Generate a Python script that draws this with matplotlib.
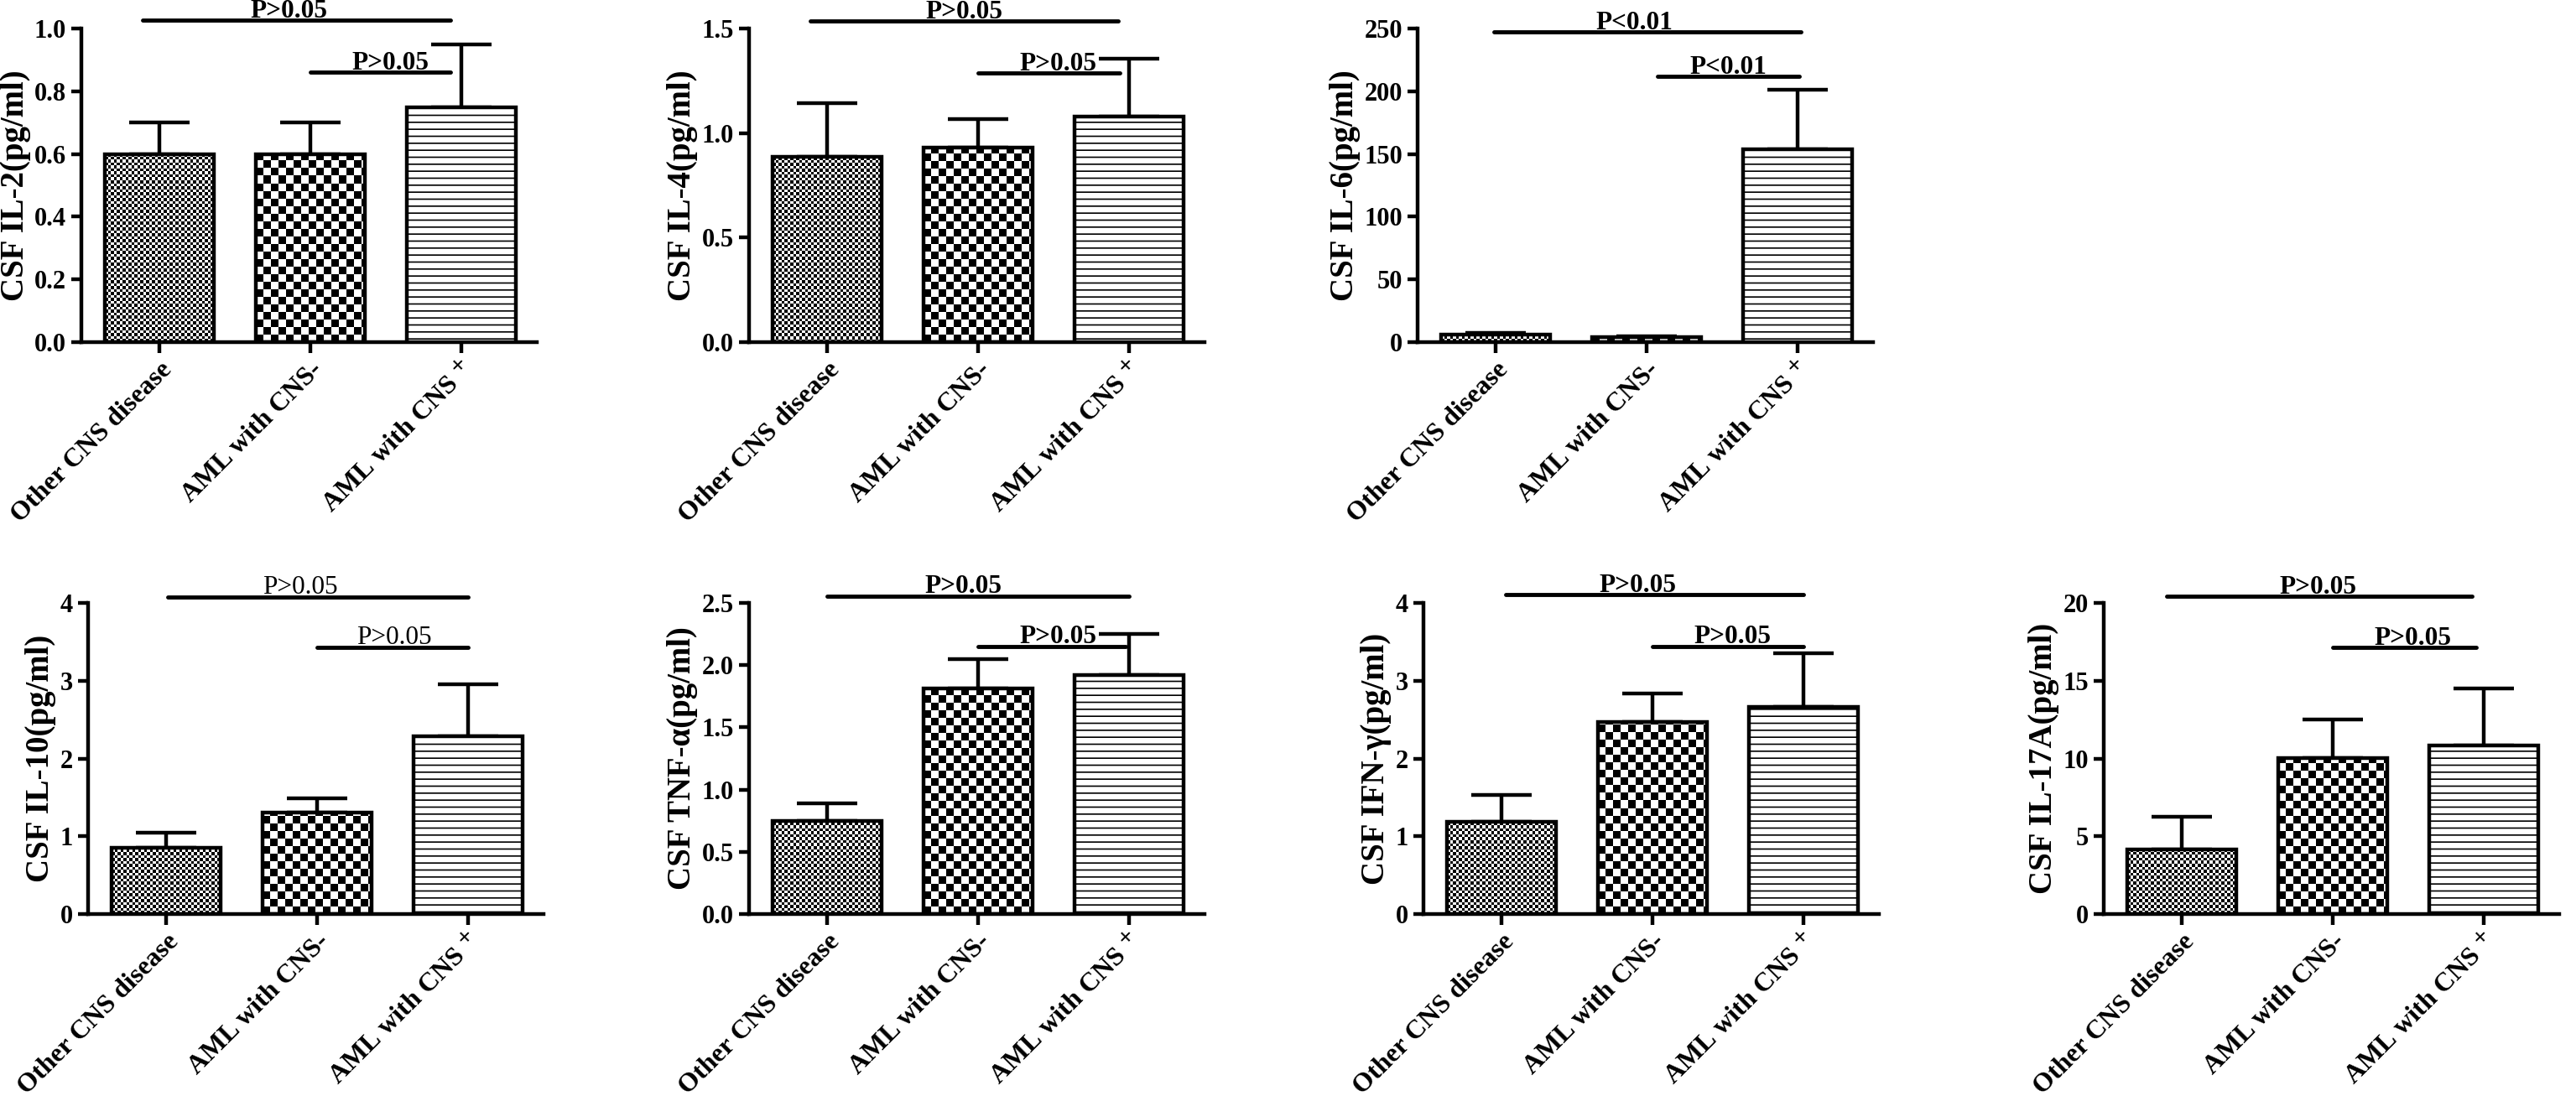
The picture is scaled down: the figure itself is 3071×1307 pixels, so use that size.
import matplotlib
matplotlib.use('Agg')
import matplotlib.pyplot as plt
import numpy as np

plt.rcParams['font.family'] = ['Liberation Serif', 'DejaVu Serif']
plt.rcParams['font.weight'] = 'bold'
plt.rcParams['mathtext.fontset'] = 'stix'
plt.rcParams['hatch.linewidth'] = 1.2

groups = ['Other CNS disease', 'AML with CNS-', 'AML with CNS $^{+}$']

# mean and upper error (pg/ml)
il2_mean = [0.60, 0.60, 0.75]
il2_err = [0.10, 0.10, 0.20]
il4_mean = [0.885, 0.93, 1.08]
il4_err = [0.26, 0.135, 0.275]
il6_mean = [6.0, 4.0, 154.0]
il6_err = [1.5, 0.8, 47.0]
il10_mean = [0.85, 1.30, 2.29]
il10_err = [0.20, 0.19, 0.66]
tnf_mean = [0.75, 1.81, 1.92]
tnf_err = [0.14, 0.24, 0.33]
ifn_mean = [1.19, 2.47, 2.66]
ifn_err = [0.34, 0.37, 0.69]
il17_mean = [4.17, 10.02, 10.82]
il17_err = [2.06, 2.47, 3.68]

il2_ticks = [0.0, 0.2, 0.4, 0.6, 0.8, 1.0]
il4_ticks = [0.0, 0.5, 1.0, 1.5]
il6_ticks = [0, 50, 100, 150, 200, 250]
il10_ticks = [0, 1, 2, 3, 4]
tnf_ticks = [0.0, 0.5, 1.0, 1.5, 2.0, 2.5]
ifn_ticks = [0, 1, 2, 3, 4]
il17_ticks = [0, 5, 10, 15, 20]

il2_p = ['P>0.05', 'P>0.05']
il4_p = ['P>0.05', 'P>0.05']
il6_p = ['P<0.01', 'P<0.01']
il10_p = ['P>0.05', 'P>0.05']
tnf_p = ['P>0.05', 'P>0.05']
ifn_p = ['P>0.05', 'P>0.05']
il17_p = ['P>0.05', 'P>0.05']

W, H = 3071, 1307
fig = plt.figure(figsize=(W / 100, H / 100), dpi=100)

# left px, top px, bottom px, ylabel, data, ticks, decimals, p labels,
# bracket lines (x0, x1, y), text x, p text weight
panels = [
    (97, 34, 408, 'CSF IL-2(pg/ml)', il2_mean, il2_err, il2_ticks, 1, il2_p,
     [(-0.11, 1.93, 1.026), (1.0, 1.93, 0.861)], [0.86, 1.53], 'bold'),
    (893, 34, 408, 'CSF IL-4(pg/ml)', il4_mean, il4_err, il4_ticks, 1, il4_p,
     [(-0.11, 1.93, 1.535), (1.0, 1.94, 1.286)], [0.91, 1.53], 'bold'),
    (1690, 34, 408, 'CSF IL-6(pg/ml)', il6_mean, il6_err, il6_ticks, 0, il6_p,
     [(-0.01, 2.02, 247), (1.07, 2.01, 211.7)], [0.92, 1.54], 'bold'),
    (105, 719, 1090, 'CSF IL-10(pg/ml)', il10_mean, il10_err, il10_ticks, 0, il10_p,
     [(0.01, 2.0, 4.077), (1.0, 2.0, 3.43)], [0.89, 1.51], 'normal'),
    (893, 719, 1090, 'CSF TNF-α(pg/ml)', tnf_mean, tnf_err, tnf_ticks, 1, tnf_p,
     [(0.0, 2.0, 2.556), (1.0, 1.98, 2.152)], [0.90, 1.53], 'bold'),
    (1697, 719, 1090, 'CSF IFN-γ(pg/ml)', ifn_mean, ifn_err, ifn_ticks, 0, ifn_p,
     [(0.03, 2.0, 4.104), (1.0, 2.0, 3.44)], [0.90, 1.53], 'bold'),
    (2508, 719, 1090, 'CSF IL-17A(pg/ml)', il17_mean, il17_err, il17_ticks, 0, il17_p,
     [(-0.10, 1.92, 20.41), (1.0, 1.95, 17.14)], [0.905, 1.53], 'bold'),
]

ax_w = 543
xlim = (-0.517, 2.5)
bar_w = 0.72


def checker(ax, bar, cell):
    (px0, py0), (px1, py1) = ax.transData.transform(
        [(bar.get_x(), bar.get_y()), (bar.get_x() + bar.get_width(), bar.get_y() + bar.get_height())])
    nx = int(np.ceil((px1 - px0) / cell))
    ny = max(int(np.ceil((py1 - py0) / cell)), 1)
    ii, jj = np.indices((ny, nx))
    arr = ((ii + jj) % 2).astype(float)
    inv = ax.transData.inverted()
    (dx0, dy0), (dx1, dy1) = inv.transform([(px0, py0), (px0 + nx * cell, py0 + ny * cell)])
    im = ax.imshow(arr, cmap='gray', vmin=0, vmax=1, extent=(dx0, dx1, dy0, dy1),
                   origin='lower', interpolation='nearest', aspect='auto', zorder=2)
    im.set_clip_path(bar)


x = np.arange(3)
for (left, top, bottom, ylab, mean, err, ticks, dec, plabs, lines, tx, pw) in panels:
    ax = fig.add_axes([left / W, 1 - bottom / H, ax_w / W, (bottom - top) / H])
    ax.set_xlim(*xlim)
    ax.set_ylim(0, ticks[-1])
    for s in ['top', 'right']:
        ax.spines[s].set_visible(False)
    for s in ['left', 'bottom']:
        ax.spines[s].set_linewidth(3.2)
    ax.errorbar(x, mean, yerr=[[0, 0, 0], err], fmt='none', ecolor='black',
                elinewidth=3.2, capsize=26, capthick=3.2, zorder=1)
    bars = ax.bar(x, mean, width=bar_w, facecolor='white', edgecolor='black',
                  linewidth=3.2, zorder=3)
    bars[0].set_facecolor('none')
    bars[1].set_facecolor('none')
    bars[2].set_hatch('--')
    checker(ax, bars[0], 3.5)
    checker(ax, bars[1], 9)
    ax.set_xlim(*xlim)
    ax.set_ylim(0, ticks[-1])

    ax.set_yticks(ticks)
    ax.set_yticklabels([f'{t:.{dec}f}' for t in ticks], fontsize=22)
    ax.set_xticks(x)
    ax.set_xticklabels(groups, rotation=45, ha='right', va='top', rotation_mode='anchor',
                       fontsize=23)
    ax.tick_params(axis='both', direction='out', length=9, width=3.2, pad=4)
    ax.set_ylabel(ylab, fontsize=28, fontweight='bold', labelpad=3)

    for (x0, x1, y), xt, lab in zip(lines, tx, plabs):
        ax.plot([x0, x1], [y, y], color='black', lw=3.5, solid_capstyle='round', clip_on=False)
        ax.annotate(lab, (xt, y), xytext=(0, 2.5), textcoords='offset points',
                    ha='center', va='baseline', fontsize=22.5, fontweight=pw,
                    annotation_clip=False)

fig.savefig('out.png', dpi=100, facecolor='white')
